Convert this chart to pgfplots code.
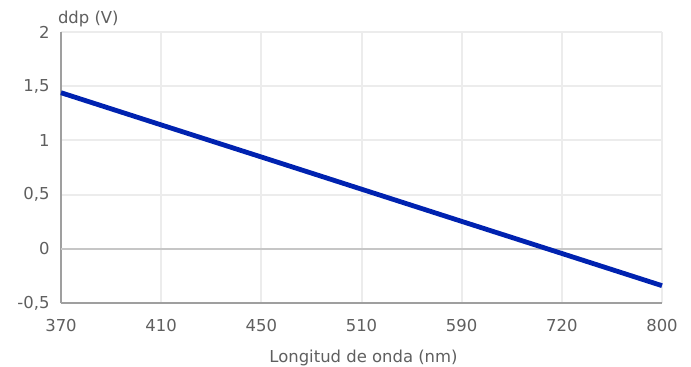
\documentclass[border=0pt]{standalone}
\usepackage{pgfplots}
\pgfplotsset{compat=1.18}
\usepackage{fontspec}
\setmainfont{DejaVu Sans}
\definecolor{lineblue}{RGB}{0,34,176}
\definecolor{txt}{RGB}{95,95,95}
\begin{document}
\begin{tikzpicture}
\begin{axis}[
  name=ax,
  scale only axis,
  width=601bp, height=271bp,
  xmin=0, xmax=6, ymin=-0.5, ymax=2,
  xtick={0,1,2,3,4,5,6},
  xticklabels={370,410,450,510,590,720,800},
  ytick={-0.5,0,0.5,1,1.5,2},
  yticklabel style={/pgf/number format/use comma,/pgf/number format/fixed},
  /pgf/number format/assume math mode=true,
  axis lines=left,
  axis line style={-, draw=gray!75, line width=2.4bp},
  major tick length=0pt,
  grid=major,
  grid style={draw=gray!15, line width=2bp},
  extra y ticks={0},
  extra y tick labels={},
  extra y tick style={grid style={draw=gray!45, line width=2.6bp}},
  tick label style={font=\fontsize{16.5}{18}\selectfont, text=txt},
  xticklabel style={anchor=base, yshift=-28bp},
  yticklabel style={xshift=-8bp},
  xlabel={Longitud de onda (nm)},
  xlabel style={font=\fontsize{16.5}{18}\selectfont, text=txt, at={(rel axis cs:0.5,0)}, anchor=base, yshift=-59bp, xshift=2bp},
  ylabel={ddp (V)},
  ylabel style={rotate=-90, at={(rel axis cs:0,1)}, anchor=base west, font=\fontsize{16.5}{18}\selectfont, text=txt, yshift=9bp, xshift=-6.5bp},
  clip=false,
]
\addplot[lineblue, line width=4.8bp] coordinates {
  (0,1.44) (1,1.143) (2,0.847) (3,0.55) (4,0.253) (5,-0.043) (6,-0.34)
};
\end{axis}
\pgfresetboundingbox
\useasboundingbox ([shift={(-61bp,-64bp)}]ax.south west) rectangle ([shift={(29bp,32bp)}]ax.north east);
\end{tikzpicture}
\end{document}
